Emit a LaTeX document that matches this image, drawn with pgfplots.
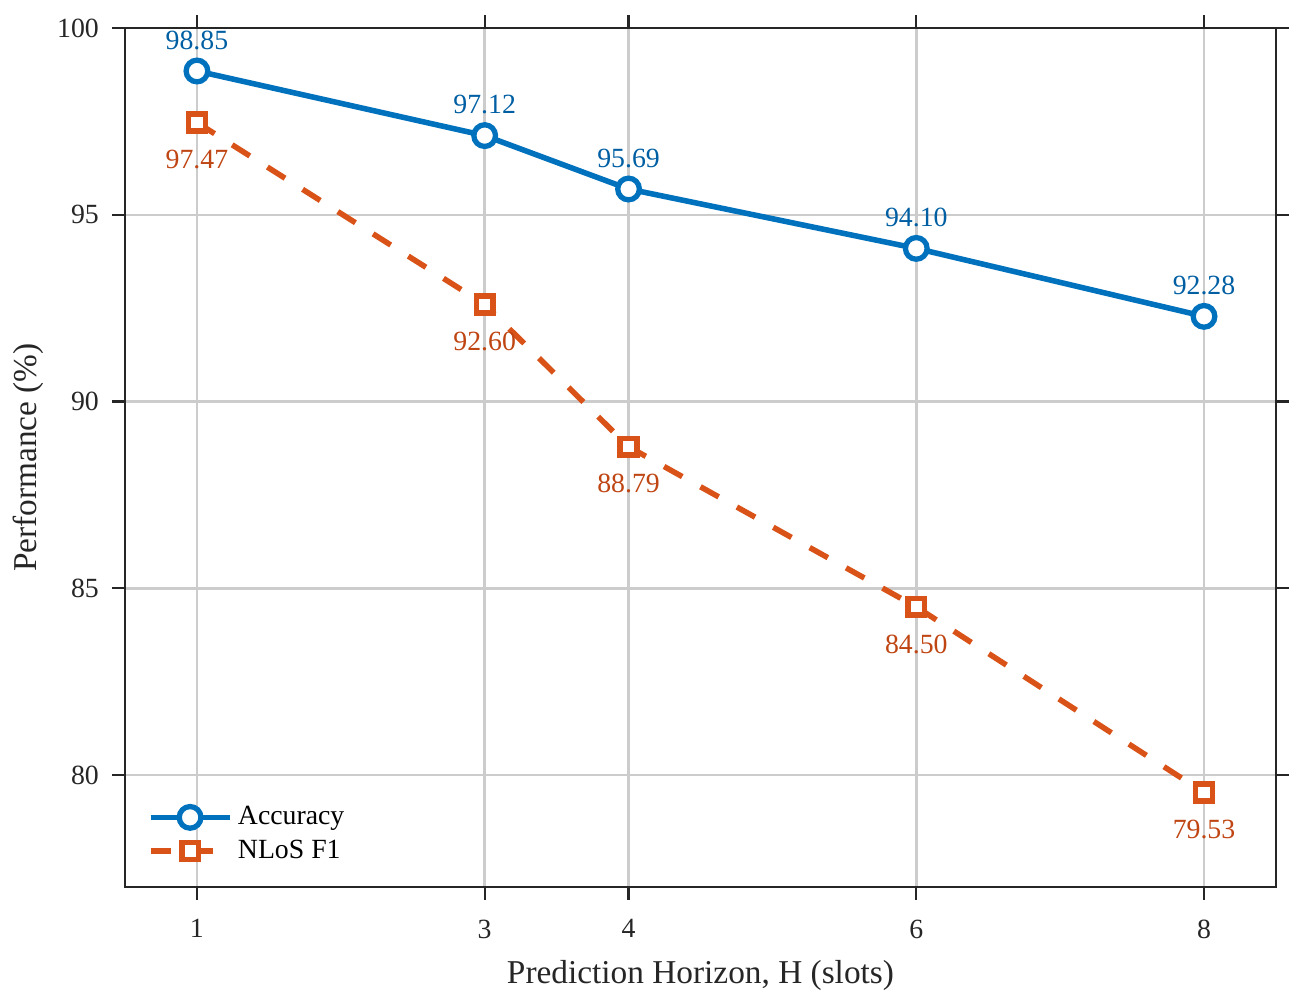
\documentclass[border=0pt]{standalone}
\usepackage{fontspec}
\setmainfont{Liberation Serif}
\usepackage{pgfplots}
\pgfplotsset{compat=1.18}
\usetikzlibrary{calc}
\definecolor{mblue}{HTML}{0072BD}
\definecolor{morange}{HTML}{D95319}
\definecolor{tblue}{HTML}{005FA3}
\definecolor{torange}{HTML}{BF4513}
\definecolor{axgray}{HTML}{262626}
\definecolor{gridgray}{HTML}{CCCCCC}
\begin{document}
\begin{tikzpicture}
\begin{axis}[
  scale only axis, width=414.3pt, height=309.2pt,
  xmin=0.5, xmax=8.5, ymin=77, ymax=100,
  xtick={1,3,4,6,8}, ytick={80,85,90,95,100},
  tick align=outside, major tick length=4.6pt,
  tick style={axgray, line width=0.8pt},
  axis line style={axgray, line width=0.8pt},
  grid=major, grid style={gridgray, line width=0.9pt},
  ticklabel style={font=\fontsize{10}{12}\selectfont, text=axgray},
  xticklabel style={yshift=-3.6pt},
  yticklabel style={xshift=-1.3pt},
  /pgf/number format/assume math mode=true,
  xlabel={Prediction Horizon, H (slots)},
  ylabel={Performance (\%)},
  every axis x label/.style={at={(axis description cs:0.5,-0.1035)}, anchor=center, font=\fontsize{12}{14}\selectfont, text=axgray},
  every axis y label/.style={at={(axis description cs:-0.0838,0.5)}, rotate=90, anchor=center, font=\fontsize{12}{14}\selectfont, text=axgray},
  legend style={at={(0,0)}, anchor=south west, xshift=5pt, yshift=4.7pt,
    draw=none, fill=none, font=\fontsize{10}{12}\selectfont, text=black,
    cells={anchor=west}},
  legend image code/.code={\draw[mark repeat=2,mark phase=2] plot coordinates {(0cm,0cm) (0.5cm,0cm) (1cm,0cm)};},
]
\addplot[mblue, line width=2pt, mark=*, mark size=3.9pt,
  mark options={solid, fill=white, draw=mblue, line width=1.9pt},
  nodes near coords={\pgfmathprintnumber[fixed,zerofill,precision=2]{\pgfplotspointmeta}},
  every node near coord/.append style={font=\fontsize{10}{12}\selectfont, text=tblue, anchor=south, inner sep=0pt, yshift=6.8pt}]
  coordinates {(1,98.85) (3,97.12) (4,95.69) (6,94.10) (8,92.28)};
\addlegendentry{Accuracy}
\addplot[morange, line width=2pt, dash pattern=on 7.5pt off 7.5pt, mark=square*, mark size=3pt,
  mark options={solid, fill=white, draw=morange, line width=2pt},
  nodes near coords={\pgfmathprintnumber[fixed,zerofill,precision=2]{\pgfplotspointmeta}},
  every node near coord/.append style={font=\fontsize{10}{12}\selectfont, text=torange, anchor=north, inner sep=0pt, yshift=-9pt}]
  coordinates {(1,97.47) (3,92.60) (4,88.79) (6,84.50) (8,79.53)};
\addlegendentry{NLoS F1}
\end{axis}
\pgfresetboundingbox
\path ($(current axis.south west)+(-45pt,-41.8pt)$) rectangle ($(current axis.north east)+(10.1pt,10.1pt)$);
\end{tikzpicture}
\end{document}
